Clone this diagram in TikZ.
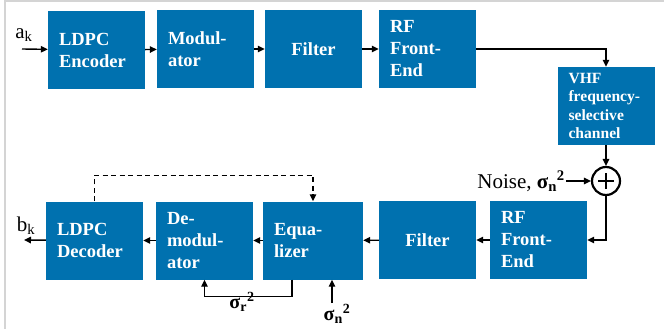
\documentclass[tikz,border=0pt]{standalone}
\usepackage{fontspec}
\setmainfont{Liberation Serif}
\usetikzlibrary{arrows.meta,positioning,calc}
\definecolor{blk}{HTML}{0071AF}
\definecolor{frm}{HTML}{D4D4D4}
\newcommand{\sigsq}[1]{σ\textsubscript{#1}\textsuperscript{2}}
\tikzset{
  >={Triangle[length=7pt,width=6.5pt]},
  blkbox/.style={fill=blk,text=white,minimum width=97pt,minimum height=78pt,inner xsep=11pt,inner ysep=0pt,text width=75pt,align=left,font=\fontsize{18.5}{22}\selectfont\bfseries},
  cbox/.style={blkbox,align=center},
  arr/.style={->,line width=1.4pt},
  lbl/.style={font=\fontsize{21}{24}\selectfont,inner sep=1pt},
  slbl/.style={font=\fontsize{20}{22}\selectfont\bfseries,inner sep=1pt},
  sumnode/.style={circle,draw,line width=2.2pt,minimum size=28pt,inner sep=0pt,
    path picture={\draw[line width=1.3pt] ([xshift=-8pt]path picture bounding box.center) -- ([xshift=8pt]path picture bounding box.center)
      ([yshift=-8pt]path picture bounding box.center) -- ([yshift=8pt]path picture bounding box.center);}},
}
\begin{document}
\begin{tikzpicture}[x=1pt,y=-1pt]
\useasboundingbox (0,0) rectangle (664,329);
% frame
\draw[frm,line width=2pt] (4.5,329) -- (4.5,1.5) -- (664,1.5);
% transmitter
\node[blkbox] (enc) at (96.5,50) {LDPC\\Encoder};
\node[blkbox] (mod) at (205.5,49) {Modul-\\ator};
\node[cbox] (fil1) at (313.5,49) {Filter};
\node[blkbox] (rf1) at (427.5,49) {RF\\Front-\\End};
\node[blkbox,font=\fontsize{15.6}{18.6}\selectfont\bfseries] (vhf) at (606,106) {VHF\\frequency-\\selective\\channel};
\node[sumnode] (sum) at (606,181) {};
\node[lbl,anchor=east] (noise) at (566,181) {Noise, {\bfseries\sigsq{n}}};
% receiver
\node[blkbox] (rf2) at (538.5,240) {RF\\Front-\\End};
\node[cbox] (fil2) at (427.5,240) {Filter};
\node[blkbox,minimum width=100pt,text width=78pt] (equ) at (313,240.5) {Equa-\\lizer};
\node[blkbox] (dem) at (204.5,240.5) {De-\\modul-\\ator};
\node[blkbox] (dec) at (94.5,240.5) {LDPC\\Decoder};
% inputs / outputs
\coordinate (ain) at (22,49);
\node[lbl] (ak) at (24,35) {a\textsubscript{k}};
\coordinate (bout) at (24,240);
\node[lbl] (bk) at (26,226) {b\textsubscript{k}};
\coordinate (nin) at (332,303);
\node[slbl] (sn) at (337,314) {\sigsq{n}};
\node[slbl] (sr) at (242,302) {\sigsq{r}};
% connectors
\draw[arr] (ain) -- (enc);
\foreach \u/\v in {enc/mod,mod/fil1,fil1/rf1} \draw[arr] (\u)--(\v);
\draw[arr] (rf1.east) -| (vhf.north);
\draw[arr] (vhf.south) -- (sum.north);
\draw[arr] (noise.east) -- (sum.west);
\draw[arr] (sum.south) |- (rf2.east);
\foreach \u/\v in {rf2/fil2,fil2/equ,equ/dem,dem/dec} \draw[arr] (\u)--(\v);
\draw[arr] (dec) -- (bout);
\draw[arr,dash pattern=on 5pt off 3.5pt] (dec.north) -- ++(0,-26) -| (equ.north);
\draw[arr] ([xshift=-21pt]equ.south) -- ++(0,17) -| (dem.south);
\draw[arr] (nin) -- (nin |- equ.south);
\end{tikzpicture}
\end{document}
